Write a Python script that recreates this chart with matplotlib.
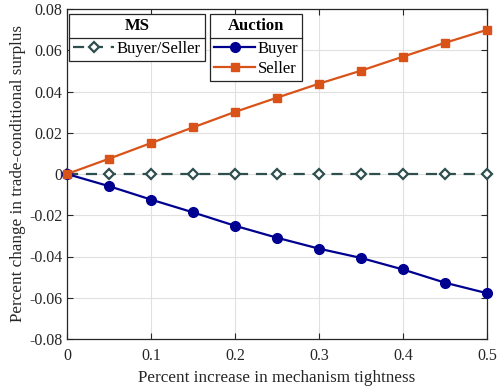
import numpy as np
import matplotlib as mpl
mpl.use('Agg')
from matplotlib import pyplot as plt
from matplotlib.lines import Line2D
from matplotlib.ticker import FuncFormatter

plt.rcParams['font.family'] = ['Liberation Serif', 'DejaVu Serif']
plt.rcParams['axes.unicode_minus'] = False

# tightness grid and surplus changes
tightness = [0.0, 0.05, 0.10, 0.15, 0.20, 0.25, 0.30, 0.35, 0.40, 0.45, 0.50]
ms_change = [0.0, 0.0, 0.0, 0.0, 0.0, 0.0, 0.0, 0.0, 0.0, 0.0, 0.0]
buyer_change = [0.0, -0.0059, -0.0124, -0.0186, -0.0251, -0.0309,
                -0.0362, -0.0407, -0.0463, -0.0527, -0.0578]
seller_change = [0.0, 0.0074, 0.0150, 0.0226, 0.0301, 0.0370,
                 0.0438, 0.0501, 0.0569, 0.0636, 0.0699]

xticks = [0, 0.1, 0.2, 0.3, 0.4, 0.5]
yticks = [-0.08, -0.06, -0.04, -0.02, 0, 0.02, 0.04, 0.06, 0.08]

c_ms = '#2F4F4F'
c_buyer = '#000090'
c_seller = '#D95319'
c_axis = '#262626'

W, H = 497, 390
f = plt.figure(figsize=(W / 100, H / 100), dpi=100)
ax1 = f.add_axes([67 / W, 1 - 339 / H, 420 / W, 330 / H])

l_ms, = ax1.plot(tightness, ms_change, ls=(0, (5, 3.5)), lw=1.6, color=c_ms,
                 marker='D', markersize=5.6, mfc='white', mec=c_ms, mew=1.6,
                 label='Buyer/Seller', zorder=3, clip_on=False)
l_b, = ax1.plot(tightness, buyer_change, lw=1.6, color=c_buyer,
                marker='o', markersize=7.0, label='Buyer', zorder=4, clip_on=False)
l_s, = ax1.plot(tightness, seller_change, lw=1.6, color=c_seller,
                marker='s', markersize=5.6, label='Seller', zorder=5, clip_on=False)

ax1.set_xlim(0, 0.5)
ax1.set_ylim(-0.08, 0.08)
ax1.set_xticks(xticks)
ax1.set_yticks(yticks)
ax1.xaxis.set_major_formatter(FuncFormatter(lambda v, p: '%g' % v))
ax1.yaxis.set_major_formatter(FuncFormatter(lambda v, p: '%g' % v))
ax1.tick_params(direction='in', top=True, right=True, length=4,
                width=0.8, color=c_axis, labelsize=11.5, labelcolor=c_axis)
ax1.tick_params(axis='x', pad=6.5)
ax1.tick_params(axis='y', pad=3.5)
ax1.grid(True, color='#e0e0e0', lw=0.8)
ax1.set_axisbelow(True)
for s in ax1.spines.values():
    s.set_color(c_axis)
    s.set_linewidth(0.9)

ax1.set_xlabel('Percent increase in mechanism tightness', fontsize=12.3,
               color=c_axis, labelpad=4.5)
ax1.set_ylabel('Percent change in trade-conditional surplus', fontsize=12.3,
               color=c_axis, labelpad=2)

# two boxed legends with a rule under each title
def boxed_legend(handles, title, anchor):
    leg = ax1.legend(handles=handles, title=title, loc='upper left',
                     bbox_to_anchor=anchor, bbox_transform=f.transFigure,
                     fancybox=False, framealpha=1, edgecolor=c_axis,
                     fontsize=12, title_fontproperties={'weight': 'bold', 'size': 12},
                     handlelength=2.45, handletextpad=0.15, borderpad=0.25,
                     labelspacing=0.25, borderaxespad=0)
    leg.get_frame().set_linewidth(0.9)
    # extra room between the title and the entries
    leg._legend_box.sep = 5
    return leg

leg1 = boxed_legend([l_ms], 'MS', (69 / W, 1 - 14 / H))
ax1.add_artist(leg1)
leg2 = boxed_legend([l_b, l_s], 'Auction', (210 / W, 1 - 14 / H))

f.canvas.draw()
renderer = f.canvas.get_renderer()
for leg in (leg1, leg2):
    box = leg.get_window_extent()
    tbox = leg.get_title().get_window_extent()
    hbox = leg._legend_handle_box.get_window_extent(renderer)
    ysep = 0.5 * (tbox.y0 + hbox.y1)
    f.add_artist(Line2D([box.x0 / W, box.x1 / W], [ysep / H, ysep / H],
                        transform=f.transFigure, color=c_axis, lw=0.9, zorder=10))

f.savefig('out.png', dpi=100)
plt.close()
